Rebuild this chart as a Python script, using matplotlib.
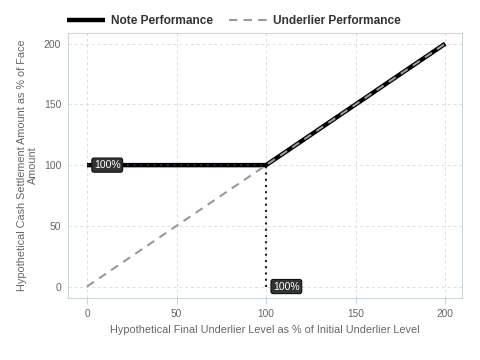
import matplotlib
matplotlib.use('Agg')
import matplotlib.pyplot as plt

# final underlier level (% of initial) and settlement amounts (% of face)
x_levels = [0, 100, 200]
note_perf = [100, 100, 200]
under_perf = [0, 100, 200]
barrier_x = [100, 100]
barrier_y = [0, 100]
ticks = [0, 50, 100, 150, 200]

plt.rcParams['font.family'] = ['Liberation Sans', 'DejaVu Sans']

fig = plt.figure(figsize=(4.8, 3.6), dpi=100)
ax = fig.add_axes([0.142, 0.172, 0.821, 0.737])

grid_c = '#dddddd'
txt_c = '#666666'

ax.plot(x_levels, note_perf, color='black', lw=3.2, solid_capstyle='butt',
        label='Note Performance', zorder=3)
ax.plot(x_levels, under_perf, color='#999999', lw=1.5, ls=(0, (4, 3)),
        label='Underlier Performance', zorder=4)
ax.plot(barrier_x, barrier_y, color='#222222', lw=1.5, ls=(0, (1, 2)), zorder=2)
ax.plot(x_levels[:2], note_perf[:2], color='#333366', lw=1.2, ls=(0, (1, 3)), zorder=4)

box = dict(boxstyle='round,pad=0.2', fc='#333333', ec='#111111', lw=0.8)
ax.annotate('100%', xy=(0, 100), xytext=(5, 0), textcoords='offset points',
            ha='left', va='center', color='white', fontsize=7.5, bbox=box, zorder=5)
ax.annotate('100%', xy=(100, 0), xytext=(5, 0), textcoords='offset points',
            ha='left', va='center', color='white', fontsize=7.5, bbox=box, zorder=5)

ax.set_xlim(-10.5, 209.5)
ax.set_ylim(-9.5, 209)
ax.set_xticks(ticks)
ax.set_yticks(ticks)
ax.grid(True, color=grid_c, ls=(0, (3, 3)), lw=0.7)
ax.set_axisbelow(True)
for s in ax.spines.values():
    s.set_color('#ccd6dd')
    s.set_linewidth(0.8)
ax.tick_params(axis='x', colors='#ccd6dd', labelcolor=txt_c, labelsize=7.3, length=4, width=0.8, pad=4)
ax.tick_params(axis='y', length=0, labelcolor=txt_c, labelsize=7.5, pad=5)

ax.set_xlabel('Hypothetical Final Underlier Level as % of Initial Underlier Level',
              fontsize=7.8, color=txt_c, labelpad=4)
ax.set_ylabel('Hypothetical Cash Settlement Amount as % of Face\nAmount',
              fontsize=7.8, color=txt_c, labelpad=4, linespacing=1.2)

leg = fig.legend(loc='upper left', bbox_to_anchor=(0.117, 0.987), ncol=2, frameon=False,
                 handlelength=3.2, columnspacing=1.4, handletextpad=0.45,
                 prop={'weight': 'bold', 'size': 8.6})
for t in leg.get_texts():
    t.set_color('#333333')

fig.savefig('out.png', dpi=100)
